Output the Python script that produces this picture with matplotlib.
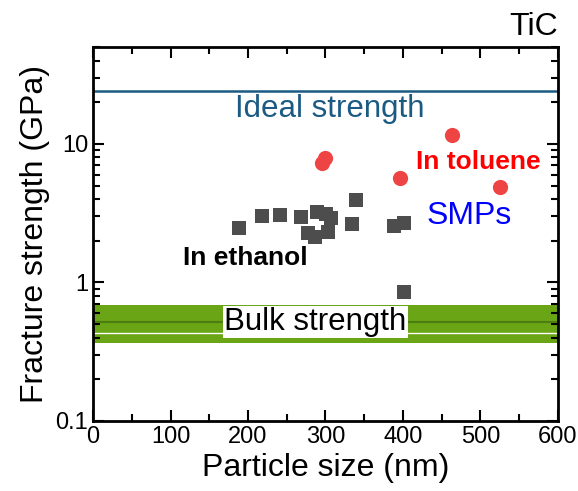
import matplotlib
matplotlib.use('Agg')
import matplotlib.pyplot as plt
from matplotlib.ticker import FixedLocator, LogLocator, NullFormatter, MultipleLocator

plt.rcParams['font.family'] = ['Liberation Sans', 'DejaVu Sans']

# SMPs made in ethanol (grey squares)
eth_size = [189, 218, 242, 269, 289, 301, 307, 277, 287, 303, 339, 334, 389, 401, 401]
eth_strength = [2.48, 3.01, 3.06, 2.97, 3.23, 3.1, 2.94, 2.26, 2.14, 2.32, 3.92, 2.64, 2.55, 2.69, 0.85]

# SMPs made in toluene (red circles)
tol_size = [295, 300, 396, 464, 526]
tol_strength = [7.3, 7.9, 5.7, 11.6, 4.85]

ideal = 24.0
bulk_low, bulk_mid, bulk_white, bulk_high = 0.365, 0.52, 0.43, 0.69

fig = plt.figure(figsize=(5.78, 4.91), dpi=100)
ax = fig.add_axes([0.161, 0.1426, 0.804, 0.7614])

# bulk band
ax.axhspan(bulk_low, bulk_high, color='#6aa516', lw=0, zorder=1)
ax.axhline(bulk_mid, color='#4b7d10', lw=1.5, zorder=2)
ax.axhline(bulk_white, color='white', lw=1.0, zorder=2)
ax.text(287, bulk_mid, 'Bulk strength', fontsize=22.5, ha='center', va='center',
        bbox=dict(facecolor='white', edgecolor='none', pad=1.0), zorder=3)

# ideal strength
ax.axhline(ideal, color='#1b5a82', lw=1.8, zorder=2)
ax.text(306, 17.9, 'Ideal strength', fontsize=22.5, color='#1b5a82', ha='center', va='center')

ax.scatter(eth_size, eth_strength, marker='s', s=100, color='#4d4d4d', lw=0, zorder=4)
ax.scatter(tol_size, tol_strength, marker='o', s=120, color='#ef4444', lw=0, zorder=4)

ax.text(116, 1.5, 'In ethanol', fontsize=19, fontweight='bold', color='black', va='center')
ax.text(417, 7.38, 'In toluene', fontsize=19, fontweight='bold', color='#ff0000', va='center')
ax.text(430, 3.0, 'SMPs', fontsize=23, color='#0000ff', va='center')

ax.set_yscale('log')
ax.set_xlim(0, 600)
ax.set_ylim(0.1, 50)
ax.xaxis.set_major_locator(MultipleLocator(100))
ax.xaxis.set_minor_locator(MultipleLocator(50))
ax.yaxis.set_major_locator(FixedLocator([0.1, 1, 10]))
ax.set_yticklabels(['0.1', '1', '10'])
ax.yaxis.set_minor_locator(LogLocator(base=10, subs=range(2, 10)))
ax.yaxis.set_minor_formatter(NullFormatter())
ax.tick_params(which='both', direction='in', top=True, right=True, width=1.5, labelsize=17)
ax.tick_params(which='major', length=8)
ax.tick_params(which='minor', length=5)
for s in ax.spines.values():
    s.set_linewidth(2)

ax.set_xlabel('Particle size (nm)', fontsize=23)
ax.set_ylabel('Fracture strength (GPa)', fontsize=23)
ax.text(1.0, 1.015, 'TiC', transform=ax.transAxes, ha='right', va='bottom', fontsize=23)

fig.savefig('out.png', dpi=100)
